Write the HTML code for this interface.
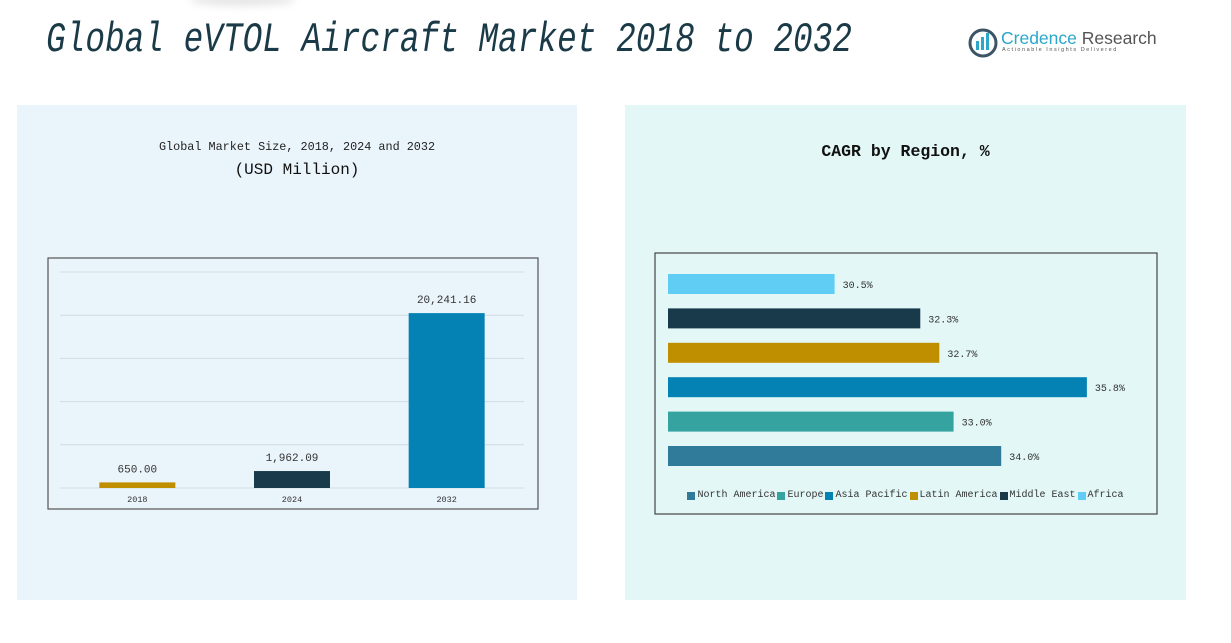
<!DOCTYPE html>
<html><head><meta charset="utf-8">
<style>
body{margin:0;width:1231px;height:643px;background:#fff;position:relative;overflow:hidden;font-family:"Liberation Mono","Noto Sans CJK SC",monospace;}
.abs{position:absolute}
</style></head>
<body>
<div class="abs" style="left:190px;top:-6px;width:105px;height:12px;border-radius:50%;background:#e6e6e6;filter:blur(4px)"></div>
<div class="abs" style="left:46px;top:16px;font-size:42px;font-style:italic;color:#1a3a47;white-space:nowrap;transform:scaleX(0.78);transform-origin:left top">Global eVTOL Aircraft Market 2018 to 2032</div>
<div class="abs" style="left:968px;top:28px;width:195px;height:32px">
 <svg width="32" height="30" style="position:absolute;left:0;top:0">
  <circle cx="15" cy="15" r="13" fill="none" stroke="#3c5566" stroke-width="3"/>
  <rect x="8" y="13" width="3" height="9" fill="#2aa7c9"/><rect x="13" y="9" width="3" height="13" fill="#2aa7c9"/><rect x="18" y="5" width="3" height="17" fill="#2aa7c9"/>
 </svg>
 <div class="abs" style="left:33px;top:0px;font-family:'Liberation Sans',sans-serif;font-size:17.5px;white-space:nowrap"><span style="color:#2aa7c9">Credence</span> <span style="color:#555">Research</span></div>
 <div class="abs" style="left:34px;top:19px;font-family:'Liberation Sans',sans-serif;font-size:5.5px;letter-spacing:1.55px;color:#555;white-space:nowrap">Actionable Insights Delivered</div>
</div>

<div class="abs" style="left:17px;top:105px;width:560px;height:495px;background:#eaf4fb"></div>
<div class="abs" style="left:625px;top:105px;width:561px;height:495px;background:#e3f7f7"></div>

<div class="abs" style="left:17px;width:560px;top:140px;text-align:center;font-size:11.8px;color:#222">Global Market Size, 2018, 2024 and 2032</div>
<div class="abs" style="left:17px;width:560px;top:161px;text-align:center;font-size:16px;color:#111">(USD Million)</div>
<div class="abs" style="left:625px;width:561px;top:142px;text-align:center;font-size:16.5px;font-weight:bold;color:#111">CAGR by Region, %</div>

<svg class="abs" id="chart" width="1231" height="643" style="left:0;top:0"></svg>

<div class="abs" id="legend" style="left:654px;width:503px;top:490px;display:flex;justify-content:center;font-size:10px;color:#333;white-space:nowrap"></div>

<script>
const years=["2018","2024","2032"];
const sizes=[650.00,1962.09,20241.16];
const sizeLabels=["650.00","1,962.09","20,241.16"];
const yTicks=[0,5000,10000,15000,20000,25000];
const regions=["North America","Europe","Asia Pacific","Latin America","Middle East","Africa"];
const cagr=[34.0,33.0,35.8,32.7,32.3,30.5];
const cagrLabels=["34.0%","33.0%","35.8%","32.7%","32.3%","30.5%"];
const colors=["#2f7b99","#35a3a0","#0582b4","#c08f00","#183a4b","#60cdf5"];

const svg=document.getElementById('chart');
const NS="http://www.w3.org/2000/svg";
function mk(t,a,txt){const e=document.createElementNS(NS,t);for(const k in a)e.setAttribute(k,a[k]);if(txt!==undefined)e.textContent=txt;svg.appendChild(e);return e;}

let f=mk('rect',{x:48,y:258,width:490,height:251,fill:'none',stroke:'#555','stroke-width':1.2});


const yMax=25000,y0=488,yH=216,px0=60,pw=464;
const ys=v=>y0-v/yMax*yH;
yTicks.forEach(t=>{const g=mk('line',{x1:px0,x2:px0+pw,y1:ys(t),y2:ys(t),stroke:'#d0dbe3','stroke-width':1});

});
const band=pw/years.length;
years.forEach((yr,i)=>{
 const cx=px0+band*(i+0.5),w=76;
 const r=mk('rect',{x:cx-w/2,y:ys(sizes[i]),width:w,height:y0-ys(sizes[i]),fill:['#c08f00','#183a4b','#0582b4'][i]});
 
 
 const l=mk('text',{x:cx,y:ys(sizes[i])-10,'text-anchor':'middle','font-size':11,fill:'#333','font-family':'Liberation Mono, monospace'},sizeLabels[i]);
 
 
 const xl=mk('text',{x:cx,y:502,'text-anchor':'middle','font-size':8.5,fill:'#333','font-family':'Liberation Mono, monospace'},yr);
 
 
});

let f2=mk('rect',{x:655,y:253,width:502,height:261,fill:'none',stroke:'#444','stroke-width':1.2});


const xMin=27,x0=668,xScale=47.6;
const xs=v=>x0+(v-xMin)*xScale;
const rowTop=456,rowStep=34.4,bh=20;
regions.forEach((rg,i)=>{
 const cy=rowTop-i*rowStep;
 const r=mk('rect',{x:x0,y:cy-bh/2,width:xs(cagr[i])-x0,height:bh,fill:colors[i]});
 
 
 const l=mk('text',{x:xs(cagr[i])+8,y:cy+4,'font-size':10,fill:'#333','font-family':'Liberation Mono, monospace'},cagrLabels[i]);
 
 
});

const lg=document.getElementById('legend');
regions.forEach((rg,i)=>{
 const it=document.createElement('span');
 
 
 it.style.cssText='display:inline-flex;align-items:center;margin:0 1px';
 it.innerHTML='<span style="display:inline-block;width:8px;height:8px;background:'+colors[i]+';margin-right:2px"></span>'+rg;
 lg.appendChild(it);
});
</script>
</body></html>
